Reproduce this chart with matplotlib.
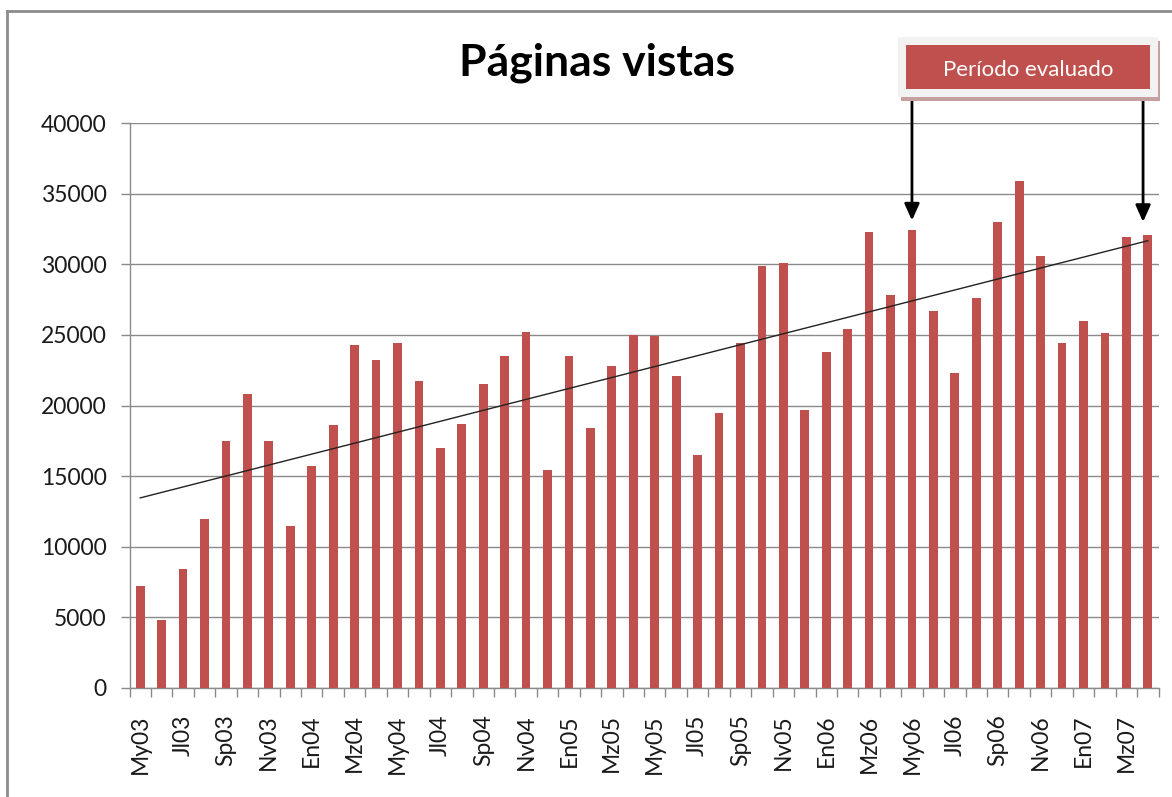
#!/usr/bin/env python3
"""Monthly page views (Páginas vistas) bar chart with linear trend."""
import numpy as np
import matplotlib
matplotlib.use("Agg")
import matplotlib.pyplot as plt
from matplotlib.lines import Line2D
from matplotlib.patches import Rectangle

plt.rcParams["font.family"] = ["Lato", "DejaVu Sans"]

months = ["My03", "Jn03", "Jl03", "Ag03", "Sp03", "Oc03", "Nv03", "Dc03",
          "En04", "Fb04", "Mz04", "Ab04", "My04", "Jn04", "Jl04", "Ag04",
          "Sp04", "Oc04", "Nv04", "Dc04", "En05", "Fb05", "Mz05", "Ab05",
          "My05", "Jn05", "Jl05", "Ag05", "Sp05", "Oc05", "Nv05", "Dc05",
          "En06", "Fb06", "Mz06", "Ab06", "My06", "Jn06", "Jl06", "Ag06",
          "Sp06", "Oc06", "Nv06", "Dc06", "En07", "Fb07", "Mz07", "Ab07"]
page_views = [7200, 4800, 8400, 12000, 17500, 20800, 17500, 11500,
              15700, 18600, 24300, 23200, 24400, 21700, 17000, 18700,
              21500, 23500, 25200, 15400, 23500, 18400, 22800, 25000,
              24900, 22100, 16500, 19500, 24400, 29900, 30100, 19700,
              23800, 25400, 32300, 27800, 32400, 26700, 22300, 27600,
              33000, 35900, 30600, 24400, 26000, 25100, 31900, 32100]
period_start = "My06"
period_end = "Ab07"

W, H = 1172, 797
fig = plt.figure(figsize=(W / 100, H / 100), dpi=100)
ax = fig.add_axes([129.5 / W, 1 - 688 / H, 1029 / W, 565 / H])

x = np.arange(len(months))
ax.bar(x, page_views, width=0.41, color="#C0504D", zorder=3)

# linear trend line (like an Excel linear trendline)
slope, intercept = np.polyfit(x, page_views, 1)
ax.plot(x[[0, -1]], slope * x[[0, -1]] + intercept, color="#222222", lw=1.0, zorder=4)

ax.set_xlim(-0.5, len(months) - 0.5)
ax.set_ylim(0, 40000)
ax.set_yticks(np.arange(0, 40001, 5000))
ax.yaxis.grid(True, color="#8a8a8a", lw=1.0, zorder=0)
ax.tick_params(axis="y", length=6.5, width=1, color="#8a8a8a", pad=10, labelsize=16.5,
               labelcolor="#1a1a1a")

# tick marks between categories, labels on every second category
ax.set_xticks(np.arange(-0.5, len(months), 1))
ax.set_xticklabels([])
ax.set_xticks(x[::2], minor=True)
ax.set_xticklabels(months[::2], minor=True, rotation=90, fontsize=16.5, color="#1a1a1a")
ax.tick_params(axis="x", which="major", length=6.5, width=1, color="#8a8a8a")
ax.tick_params(axis="x", which="minor", length=0, pad=19)

for side in ["top", "right"]:
    ax.spines[side].set_visible(False)
for side in ["left", "bottom"]:
    ax.spines[side].set_color("#8a8a8a")
    ax.spines[side].set_linewidth(1.0)

fig.text(597 / W, 1 - 63 / H, "Páginas vistas", ha="center", va="center",
         fontsize=32, fontweight="bold", color="black")

# chart-area border (only top and left visible in the crop)
fig.add_artist(Line2D([7 / W, 7 / W], [0, 1 - 11 / H], color="#8c8c8c", lw=2))
fig.add_artist(Line2D([7 / W, 1], [1 - 11 / H, 1 - 11 / H], color="#8c8c8c", lw=2))

# "Período evaluado" call-out box with shadow
fig.add_artist(Rectangle((901 / W, 1 - 101 / H), 259 / W, 60 / H,
                         transform=fig.transFigure, color="#C4A0A0", lw=0))
fig.add_artist(Rectangle((898 / W, 1 - 97 / H), 260 / W, 60 / H,
                         transform=fig.transFigure, color="#F2F2F2", lw=0))
fig.add_artist(Rectangle((906 / W, 1 - 89 / H), 244 / W, 44 / H,
                         transform=fig.transFigure, color="#C0504D", lw=0))
fig.text(1028 / W, 1 - 70 / H, "Período evaluado", ha="center", va="center",
         fontsize=16, color="white")

for label, tip_y in [(period_start, 33100), (period_end, 33000)]:
    i = months.index(label)
    xi = i if label != period_end else i - 0.22
    ax.annotate("", xy=(xi, tip_y), xycoords="data",
                xytext=(xi, 1 - 97 / H), textcoords=("data", "figure fraction"),
                arrowprops=dict(arrowstyle="-|>,head_length=1.0,head_width=0.45",
                                color="black", lw=2, shrinkA=0, shrinkB=0),
                annotation_clip=False)

fig.savefig("out.png", dpi=100)
